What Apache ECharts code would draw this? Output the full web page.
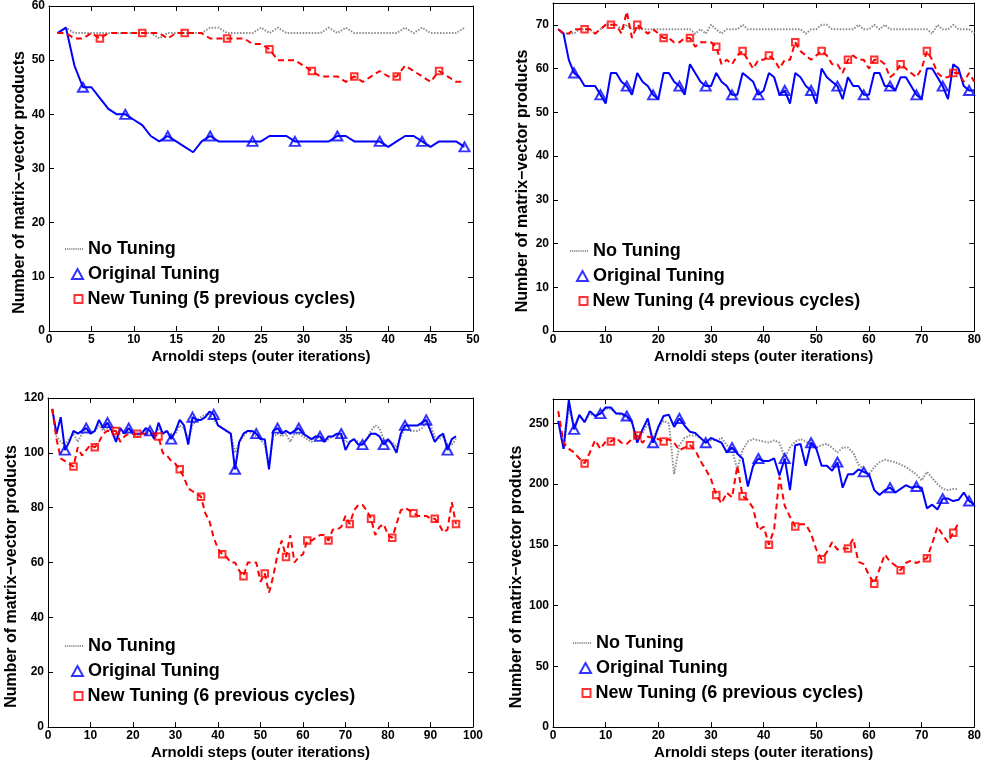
<!DOCTYPE html>
<html>
<head>
<meta charset="utf-8">
<script src="https://cdn.jsdelivr.net/npm/echarts@6/dist/echarts.min.js"></script>
<style>
html, body { margin: 0; padding: 0; background: #fff; }
#MyChart { width: 984px; height: 769px; }
</style>
</head>
<body>
<div id="MyChart"></div>
<script>
// top left: 5 previous cycles
var tl_none = [55, 56, 55, 55, 55, 55, 55, 55, 55, 55, 55, 55, 54, 55, 55, 55, 55, 55, 56, 56, 55, 55, 55, 55, 56,
	55, 56, 55, 55, 55, 55, 55, 56, 55, 56, 55, 55, 55, 55, 55, 55, 56, 55, 56, 55, 55, 55, 55, 56];
var tl_orig = [55, 56, 49, 45, 45, 43, 41, 40, 40, 39, 38, 36, 35, 36, 35, 34, 33, 35, 36, 35, 35, 35, 35, 35, 35,
	36, 36, 36, 35, 35, 35, 35, 35, 36, 36, 35, 35, 35, 35, 34, 35, 36, 36, 35, 34, 35, 35, 35, 34];
var tl_new = [55, 55, 54, 54, 55, 54, 55, 55, 55, 55, 55, 55, 55, 54, 55, 55, 55, 55, 54, 54, 54, 54, 54, 53, 53,
	52, 50, 50, 50, 49, 48, 47, 47, 47, 46, 47, 46, 47, 48, 47, 47, 49, 48, 47, 46, 48, 47, 46, 46];

// top right: 4 previous cycles
var tr_none = [69, 68, 68, 68, 69, 69, 69, 68, 69, 70, 70, 70, 69, 70, 69, 69, 69, 69, 69, 69, 69, 69, 69, 69, 69,
	69, 68, 69, 68, 70, 69, 68, 69, 69, 69, 70, 69, 69, 69, 69, 69, 69, 69, 69, 69, 69, 69, 68, 69, 69,
	70, 70, 69, 69, 69, 69, 69, 70, 69, 69, 70, 69, 70, 69, 69, 69, 69, 69, 69, 69, 69, 68, 70, 69, 69,
	70, 69, 69, 69, 68];
var tr_orig = [69, 68, 62, 59, 58, 56, 56, 56, 54, 52, 59, 59, 57, 56, 54, 59, 57, 56, 54, 53, 59, 59, 57, 56, 54,
	61, 59, 57, 56, 56, 59, 57, 56, 54, 54, 59, 58, 57, 54, 55, 59, 58, 54, 55, 52, 59, 58, 56, 55, 52,
	60, 58, 57, 56, 53, 58, 56, 56, 54, 54, 59, 59, 56, 56, 55, 58, 58, 56, 54, 53, 60, 60, 58, 56, 53,
	61, 60, 56, 55, 55];
var tr_new = [69, 68, 68, 69, 69, 69, 69, 68, 69, 70, 70, 70, 68, 73, 67, 70, 69, 68, 69, 68, 67, 67, 66, 66, 67,
	67, 65, 66, 66, 66, 65, 61, 62, 61, 63, 64, 62, 60, 62, 62, 63, 62, 60, 62, 62, 66, 64, 63, 62, 63,
	64, 63, 61, 61, 59, 62, 63, 62, 62, 60, 62, 62, 61, 58, 59, 61, 60, 59, 58, 60, 64, 62, 59, 58, 58,
	59, 59, 57, 59, 57];

// bottom left: 6 previous cycles
var bl_none = [116, 106, 104, 103, 105, 107, 104, 107, 108, 107, 108, 110, 108, 109, 108, 105, 108, 107, 108, 107,
	106, 107, 108, 107, 106, 109, 107, 108, 106, 107, 110, 109, 105, 110, 112, 113, 114, 114, 112, 110,
	109, 108, 107, 100, 104, 106, 108, 107, 106, 105, 103, 96, 106, 107, 106, 107, 104, 107, 107, 106,
	105, 104, 106, 105, 104, 105, 106, 107, 106, 104, 104, 105, 104, 103, 105, 108, 110, 109, 105, 104,
	104, 102, 106, 109, 108, 108, 108, 109, 111, 110, 106, 105, 106, 103, 103, 105];
var bl_orig = [116, 107, 113, 101, 104, 108, 107, 108, 109, 107, 108, 112, 109, 111, 108, 104, 109, 107, 109, 107,
	107, 107, 109, 108, 105, 111, 107, 108, 105, 108, 112, 110, 103, 113, 112, 112, 113, 115, 114, 110,
	109, 108, 107, 94, 104, 107, 108, 108, 107, 105, 105, 94, 108, 109, 107, 108, 107, 108, 109, 107,
	106, 105, 106, 106, 104, 106, 106, 107, 107, 101, 104, 105, 103, 103, 105, 107, 107, 106, 103, 105,
	103, 100, 107, 110, 110, 110, 110, 111, 112, 108, 104, 106, 107, 101, 105, 106];
var bl_new = [116, 105, 98, 97, 96, 95, 102, 99, 101, 103, 102, 104, 107, 108, 108, 108, 104, 106, 107, 107,
	107, 107, 107, 107, 107, 106, 100, 99, 97, 96, 94, 91, 87, 86, 85, 84, 78, 75, 69, 65,
	63, 62, 60, 60, 57, 55, 60, 60, 60, 53, 56, 49, 55, 63, 68, 62, 70, 60, 62, 63,
	68, 68, 69, 70, 70, 68, 72, 72, 73, 77, 74, 79, 81, 81, 79, 76, 70, 73, 74, 70,
	69, 74, 79, 80, 79, 78, 77, 77, 77, 76, 76, 74, 71, 72, 82, 74];

// bottom right: 6 previous cycles
var br_none = [252, 229, 262, 248, 256, 251, 258, 256, 258, 262, 262, 258, 257, 255, 250, 238, 242, 250, 238, 246,
	252, 250, 208, 232, 238, 240, 240, 238, 234, 236, 236, 238, 232, 228, 212, 228, 235, 237, 236, 235,
	234, 236, 234, 222, 230, 235, 237, 235, 232, 230, 232, 233, 230, 226, 230, 230, 226, 216, 212, 208,
	214, 218, 220, 219, 218, 216, 214, 211, 208, 203, 210, 205, 200, 196, 195, 196, 196];
var br_orig = [252, 229, 269, 245, 257, 251, 260, 256, 258, 263, 263, 258, 258, 256, 251, 234, 245, 254, 234, 247,
	256, 257, 247, 254, 248, 243, 242, 238, 234, 238, 236, 234, 226, 230, 225, 221, 198, 215, 221, 219,
	219, 221, 207, 221, 195, 232, 233, 215, 234, 229, 215, 215, 211, 218, 197, 208, 208, 212, 210, 208,
	195, 191, 195, 197, 193, 196, 199, 197, 198, 197, 180, 183, 179, 188, 188, 186, 187, 193, 186, 183];
var br_new = [260, 234, 229, 226, 221, 217, 226, 236, 229, 235, 235, 238, 234, 233, 237, 240, 234, 239, 238, 237,
	235, 237, 234, 228, 230, 232, 228, 219, 212, 204, 191, 184, 193, 189, 215, 190, 187, 180, 162, 165,
	150, 163, 206, 182, 173, 165, 167, 167, 159, 146, 138, 144, 152, 146, 147, 147, 155, 136, 134, 125,
	118, 130, 142, 136, 133, 129, 135, 137, 135, 137, 139, 151, 165, 158, 152, 160, 168];

var xName = 'Arnoldi steps (outer iterations)';
var yName = 'Number of matrix\u2212vector products';
var font = 'Liberation Sans, Arial, Helvetica, sans-serif';
// dotted legend sample for "No Tuning"
var dotIcon = 'path://M0,0h1v1.8h-1zM2,0h1v1.8h-1zM4,0h1v1.8h-1zM6,0h1v1.8h-1zM8,0h1v1.8h-1z' +
	'M10,0h1v1.8h-1zM12,0h1v1.8h-1zM14,0h1v1.8h-1zM16,0h1v1.8h-1z';

var panels = [
	{grid: {left: 49, top: 3, width: 424, height: 328}, xMax: 50, xInt: 5, yMax: 60, yInt: 10,
		none: tl_none, orig: tl_orig, fresh: tl_new, cycles: 5, xGap: 18, yGap: 18, lx: 67, ly: 240},
	{grid: {left: 553, top: 3, width: 424, height: 328}, xMax: 80, xInt: 10, yMax: 75, yInt: 10,
		none: tr_none, orig: tr_orig, fresh: tr_new, cycles: 4, xGap: 18, yGap: 22, lx: 572, ly: 242},
	{grid: {left: 48, top: 398, width: 425, height: 329}, xMax: 100, xInt: 10, yMax: 120, yInt: 20,
		none: bl_none, orig: bl_orig, fresh: bl_new, cycles: 6, xGap: 18, yGap: 23, lx: 67, ly: 637},
	{grid: {left: 553, top: 399, width: 424, height: 328}, xMax: 80, xInt: 10, yMax: 270, yInt: 50,
		none: br_none, orig: br_orig, fresh: br_new, cycles: 6, xGap: 18, yGap: 25, lx: 575, ly: 634}
];

function pairs(arr) {
	return arr.map(function(v, i) { return [i + 1, v]; });
}
// markers every 5th step
function marks(arr, start) {
	return pairs(arr).filter(function(p, i) { return i >= start && (i - start) % 5 === 0; });
}

var labelStyle = {fontSize: 12, fontWeight: 'bold', color: '#000', fontFamily: font};
var nameStyle = {fontSize: 15, fontWeight: 'bold', color: '#000', fontFamily: font};
var legendText = {fontSize: 18, fontWeight: 'bold', color: '#000', fontFamily: font};

var grids = [], xAxes = [], yAxes = [], series = [], legends = [];

panels.forEach(function(p, k) {
	grids.push(p.grid);
	var tick = {show: true, inside: true, length: 5, lineStyle: {color: '#000'}};
	var line = {show: true, onZero: false, lineStyle: {color: '#000', width: 1}};
	xAxes.push({
		type: 'value', gridIndex: k, min: 0, max: p.xMax, interval: p.xInt, position: 'bottom',
		name: xName, nameLocation: 'middle', nameGap: p.xGap, nameTextStyle: nameStyle,
		axisLine: line, axisTick: tick, splitLine: {show: false},
		axisLabel: Object.assign({margin: 3}, labelStyle)
	});
	xAxes.push({
		type: 'value', gridIndex: k, min: 0, max: p.xMax, interval: p.xInt, position: 'top',
		axisLine: line, axisTick: tick, splitLine: {show: false}, axisLabel: {show: false}
	});
	yAxes.push({
		type: 'value', gridIndex: k, min: 0, max: p.yMax, interval: p.yInt, position: 'left',
		name: yName, nameLocation: 'middle', nameGap: p.yGap,
		nameTextStyle: Object.assign({padding: [0, 28, 0, 0]}, nameStyle, {fontSize: 16}),
		axisLine: line, axisTick: tick, splitLine: {show: false},
		axisLabel: Object.assign({margin: 4, showMaxLabel: p.yMax % p.yInt === 0}, labelStyle)
	});
	yAxes.push({
		type: 'value', gridIndex: k, min: 0, max: p.yMax, interval: p.yInt, position: 'right',
		axisLine: line, axisTick: tick, splitLine: {show: false}, axisLabel: {show: false}
	});

	var xi = 2 * k, yi = 2 * k;
	var newName = 'New Tuning (' + p.cycles + ' previous cycles)';
	series.push({
		type: 'line', name: 'No Tuning', xAxisIndex: xi, yAxisIndex: yi, data: pairs(p.none),
		symbol: 'none', itemStyle: {color: '#8c8c8c'},
		lineStyle: {color: '#8c8c8c', width: 2, type: [1.5, 1.5]}, z: 1
	});
	series.push({
		type: 'line', name: 'orig line ' + k, xAxisIndex: xi, yAxisIndex: yi, data: pairs(p.orig),
		symbol: 'none', lineStyle: {color: '#0000ff', width: 2}, z: 2
	});
	series.push({
		type: 'line', name: 'new line ' + k, xAxisIndex: xi, yAxisIndex: yi, data: pairs(p.fresh),
		symbol: 'none', lineStyle: {color: '#ff0000', width: 2, type: [6, 4]}, z: 3
	});
	series.push({
		type: 'scatter', name: 'Original Tuning', xAxisIndex: xi, yAxisIndex: yi, data: marks(p.orig, 3),
		symbol: 'triangle', symbolSize: [10, 9], z: 4,
		itemStyle: {color: 'rgba(0,0,0,0)', borderColor: '#0000ff', borderWidth: 2}
	});
	series.push({
		type: 'scatter', name: newName, xAxisIndex: xi, yAxisIndex: yi, data: marks(p.fresh, 5),
		symbol: 'rect', symbolSize: 6.5, z: 5,
		itemStyle: {color: 'rgba(0,0,0,0)', borderColor: '#ff0000', borderWidth: 2}
	});

	legends.push({data: [{name: 'No Tuning', icon: dotIcon, itemStyle: {color: '#8c8c8c', borderWidth: 0}}],
		left: p.lx - 2, top: p.ly, itemWidth: 18, itemHeight: 4,
		textStyle: legendText, itemGap: 0, selectedMode: false, padding: 0});
	legends.push({data: ['Original Tuning'], left: p.lx + 4, top: p.ly + 25, itemWidth: 11, itemHeight: 10,
		textStyle: legendText, selectedMode: false, padding: 0});
	legends.push({data: [newName], left: p.lx + 6.5, top: p.ly + 50, itemWidth: 8, itemHeight: 8,
		textStyle: legendText, itemGap: 0, selectedMode: false, padding: 0});
});

var myChart = echarts.init(document.getElementById('MyChart'));
myChart.setOption({
	animation: false,
	backgroundColor: '#fff',
	grid: grids,
	xAxis: xAxes,
	yAxis: yAxes,
	legend: legends,
	series: series
});
</script>
</body>
</html>
